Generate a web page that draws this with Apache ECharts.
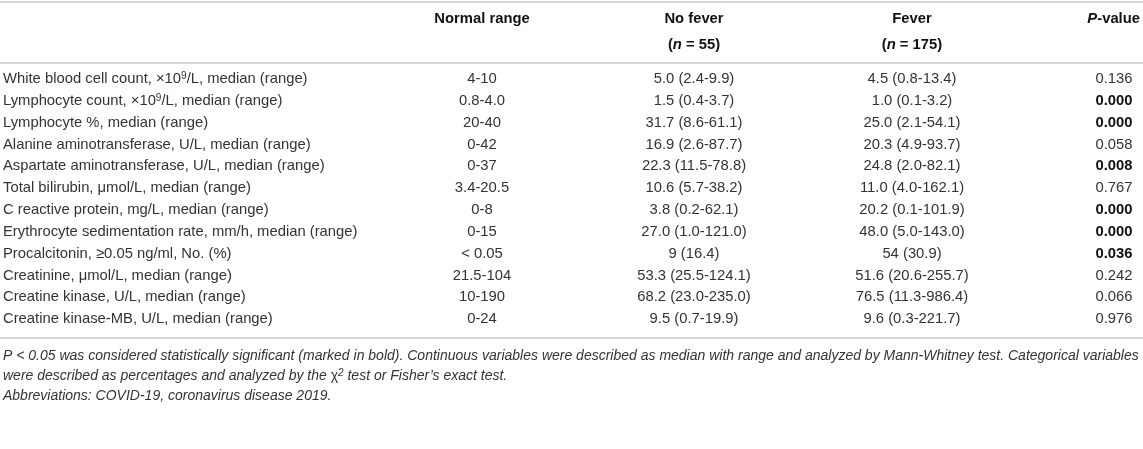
<!DOCTYPE html>
<html>
<head>
<meta charset="utf-8">
<script src="https://cdn.jsdelivr.net/npm/echarts@6/dist/echarts.min.js"></script>
<style>
  html, body { margin: 0; padding: 0; background: #fff; }
  #main { width: 1143px; height: 449px; }
</style>
</head>
<body>
<div id="main"></div>
<script>
// table content
const rowLabels = [
  'White blood cell count, \u00d710{sup|9}/L, median (range)',
  'Lymphocyte count, \u00d710{sup|9}/L, median (range)',
  'Lymphocyte %, median (range)',
  'Alanine aminotransferase, U/L, median (range)',
  'Aspartate aminotransferase, U/L, median (range)',
  'Total bilirubin, \u03bcmol/L, median (range)',
  'C reactive protein, mg/L, median (range)',
  'Erythrocyte sedimentation rate, mm/h, median (range)',
  'Procalcitonin, \u22650.05 ng/ml, No. (%)',
  'Creatinine, \u03bcmol/L, median (range)',
  'Creatine kinase, U/L, median (range)',
  'Creatine kinase-MB, U/L, median (range)'
];
const normalRange = ['4-10', '0.8-4.0', '20-40', '0-42', '0-37', '3.4-20.5', '0-8', '0-15', '< 0.05', '21.5-104', '10-190', '0-24'];
const noFever = ['5.0 (2.4-9.9)', '1.5 (0.4-3.7)', '31.7 (8.6-61.1)', '16.9 (2.6-87.7)', '22.3 (11.5-78.8)', '10.6 (5.7-38.2)',
  '3.8 (0.2-62.1)', '27.0 (1.0-121.0)', '9 (16.4)', '53.3 (25.5-124.1)', '68.2 (23.0-235.0)', '9.5 (0.7-19.9)'];
const fever = ['4.5 (0.8-13.4)', '1.0 (0.1-3.2)', '25.0 (2.1-54.1)', '20.3 (4.9-93.7)', '24.8 (2.0-82.1)', '11.0 (4.0-162.1)',
  '20.2 (0.1-101.9)', '48.0 (5.0-143.0)', '54 (30.9)', '51.6 (20.6-255.7)', '76.5 (11.3-986.4)', '9.6 (0.3-221.7)'];
const pValues = ['0.136', '0.000', '0.000', '0.058', '0.008', '0.767', '0.000', '0.000', '0.036', '0.242', '0.066', '0.976'];

const footnotes = [
  'P < 0.05 was considered statistically significant (marked in bold). Continuous variables were described as median with range and analyzed by Mann-Whitney test. Categorical variables',
  'were described as percentages and analyzed by the {chi|\u03c7}{sup|2} test or Fisher\u2019s exact test.',
  'Abbreviations: COVID-19, coronavirus disease 2019.'
];

// layout
const W = 1143;
const colX = [482, 694, 912, 1114];
const FONT = '"Liberation Sans", Arial, Helvetica, sans-serif';
const FS = 14.8;
const TXT = '#333';
const RULE = '#c8c8c8';
const tableTop = 68, tableH = 262;

const myChart = echarts.init(document.getElementById('main'));

const supRich = {
  sup: { fontSize: 10, fontFamily: FONT, fill: TXT, verticalAlign: 'top', lineHeight: 16 },
  chi: { fontSize: FS, fontFamily: FONT, fill: TXT, fontStyle: 'normal' }
};

function cellText(x, y, text, align, bold) {
  return {
    type: 'text',
    style: {
      x: x, y: y, text: text,
      align: align, verticalAlign: 'middle',
      fontFamily: FONT, fontSize: FS,
      fontWeight: bold ? 'bold' : 'normal',
      fill: bold ? '#111' : TXT,
      rich: supRich
    }
  };
}

function hrule(y) {
  return {
    type: 'line',
    shape: { x1: 0, y1: y, x2: W, y2: y },
    style: { stroke: RULE, lineWidth: 1.5 }
  };
}

const headBold = { fontFamily: FONT, fontSize: FS, fontWeight: 'bold', fill: '#111' };
const headRich = {
  it: { fontFamily: FONT, fontSize: FS, fontWeight: 'bold', fontStyle: 'italic', fill: '#111' },
  b: headBold
};

function head(x, y, text) {
  return {
    type: 'text',
    style: Object.assign({ x: x, y: y, text: text, align: 'center', verticalAlign: 'middle', rich: headRich }, headBold)
  };
}

const option = {
  animation: false,
  grid: { left: 0, right: 0, top: tableTop, height: tableH },
  xAxis: { type: 'value', min: 0, max: W, show: false },
  yAxis: { type: 'category', data: rowLabels.map((_, i) => i), inverse: true, show: false },
  graphic: [
    hrule(2),
    head(colX[0], 19, 'Normal range'),
    head(colX[1], 19, 'No fever'),
    head(colX[1], 45, '{b|(}{it|n}{b| = 55)}'),
    head(colX[2], 19, 'Fever'),
    head(colX[2], 45, '{b|(}{it|n}{b| = 175)}'),
    {
      type: 'text',
      style: Object.assign({ x: 1140, y: 19, text: '{it|P}{b|-value}', align: 'right', verticalAlign: 'middle', rich: headRich }, headBold)
    },
    hrule(63),
    hrule(338)
  ].concat(footnotes.map((t, i) => ({
    type: 'text',
    style: {
      x: 3, y: 356 + i * 20, text: t, align: 'left', verticalAlign: 'middle',
      fontFamily: FONT, fontSize: 14, fontStyle: 'italic', fill: TXT,
      rich: {
        sup: { fontSize: 10, fontFamily: FONT, fontStyle: 'italic', fill: TXT, verticalAlign: 'top', lineHeight: 16 },
        chi: { fontSize: 14, fontFamily: FONT, fill: TXT }
      }
    }
  }))),
  series: [{
    type: 'custom',
    coordinateSystem: 'cartesian2d',
    encode: { x: 0, y: 1 },
    data: rowLabels.map((_, i) => [0, i]),
    renderItem: function (params, api) {
      const i = api.value(1);
      const y = api.coord([0, i])[1];
      const left = api.coord([3, i])[0];
      const sig = parseFloat(pValues[i]) < 0.05;
      return {
        type: 'group',
        children: [
          cellText(left, y, rowLabels[i], 'left', false),
          cellText(api.coord([colX[0], i])[0], y, normalRange[i], 'center', false),
          cellText(api.coord([colX[1], i])[0], y, noFever[i], 'center', false),
          cellText(api.coord([colX[2], i])[0], y, fever[i], 'center', false),
          cellText(api.coord([colX[3], i])[0], y, pValues[i], 'center', sig)
        ]
      };
    }
  }]
};

myChart.setOption(option);
</script>
</body>
</html>
